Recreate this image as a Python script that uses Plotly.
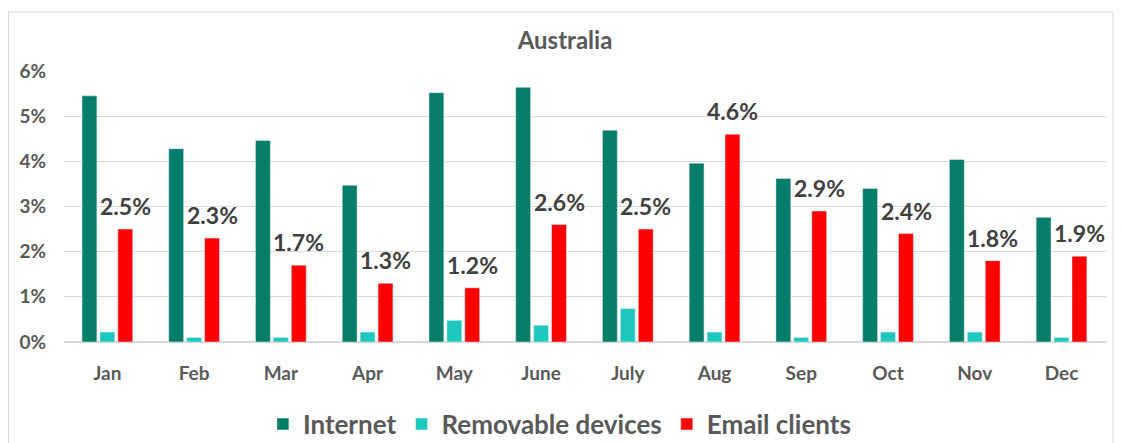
import plotly.graph_objects as go

months = ["Jan", "Feb", "Mar", "Apr", "May", "June", "July", "Aug", "Sep", "Oct", "Nov", "Dec"]
internet = [5.45, 4.28, 4.46, 3.47, 5.52, 5.64, 4.69, 3.96, 3.62, 3.40, 4.04, 2.76]
removable = [0.22, 0.10, 0.10, 0.22, 0.48, 0.37, 0.74, 0.22, 0.10, 0.22, 0.22, 0.10]
email = [2.5, 2.3, 1.7, 1.3, 1.2, 2.6, 2.5, 4.6, 2.9, 2.4, 1.8, 1.9]

GREEN = "#067D68"
CYAN = "#1FC8BF"
RED = "#FF0000"
GREY = "#595959"
FONT = "Lato"

fig = go.Figure()
fig.add_trace(go.Bar(x=months, y=internet, name="Internet", marker_color=GREEN))
fig.add_trace(go.Bar(x=months, y=removable, name="Removable devices", marker_color=CYAN))
fig.add_trace(go.Bar(x=months, y=email, name="Email clients", marker_color=RED))

# value labels above the email bars (bar sits one slot right of the group centre)
for m, v in zip(months, email):
    fig.add_annotation(
        x=m,
        y=v,
        text=f"<b>{v:.1f}%</b>",
        showarrow=False,
        xshift=18,
        yshift=7,
        yanchor="bottom",
        font=dict(family=FONT, size=23, color="#404040"),
    )

# chart border
fig.add_shape(
    type="rect",
    xref="paper",
    yref="paper",
    x0=-0.0532,
    x1=1.0058,
    y0=-0.5,
    y1=1.2177,
    line=dict(color="#D9D9D9", width=1),
    fillcolor="rgba(0,0,0,0)",
    layer="below",
)

fig.update_layout(
    width=1114,
    height=435,
    margin=dict(l=56, r=15, t=63, b=101, autoexpand=False),
    paper_bgcolor="white",
    plot_bgcolor="white",
    barmode="group",
    bargap=0.38,
    bargroupgap=0.17,
    font=dict(family=FONT, color=GREY),
    title=dict(
        text="<b>Australia</b>",
        x=0.5,
        xref="container",
        xanchor="center",
        y=0.926,
        yref="container",
        yanchor="middle",
        font=dict(size=24, color=GREY, family=FONT),
    ),
    legend=dict(
        orientation="h",
        xref="paper",
        x=0.475,
        xanchor="center",
        yref="paper",
        y=-0.303,
        yanchor="middle",
        font=dict(size=26, color=GREY, family=FONT, weight="bold"),
    ),
    showlegend=True,
)
fig.update_xaxes(
    showgrid=False,
    showline=False,
    tickangle=0,
    tickfont=dict(size=19, color=GREY, family=FONT, weight="bold"),
    ticklabelstandoff=18,
)
fig.update_yaxes(
    range=[0, 6],
    dtick=1,
    ticksuffix="%",
    showgrid=True,
    gridcolor="#D9D9D9",
    zeroline=True,
    zerolinecolor="#D9D9D9",
    tickfont=dict(size=19, color=GREY, family=FONT, weight="bold"),
    ticklabelstandoff=17,
)

fig.write_html("out.html")
